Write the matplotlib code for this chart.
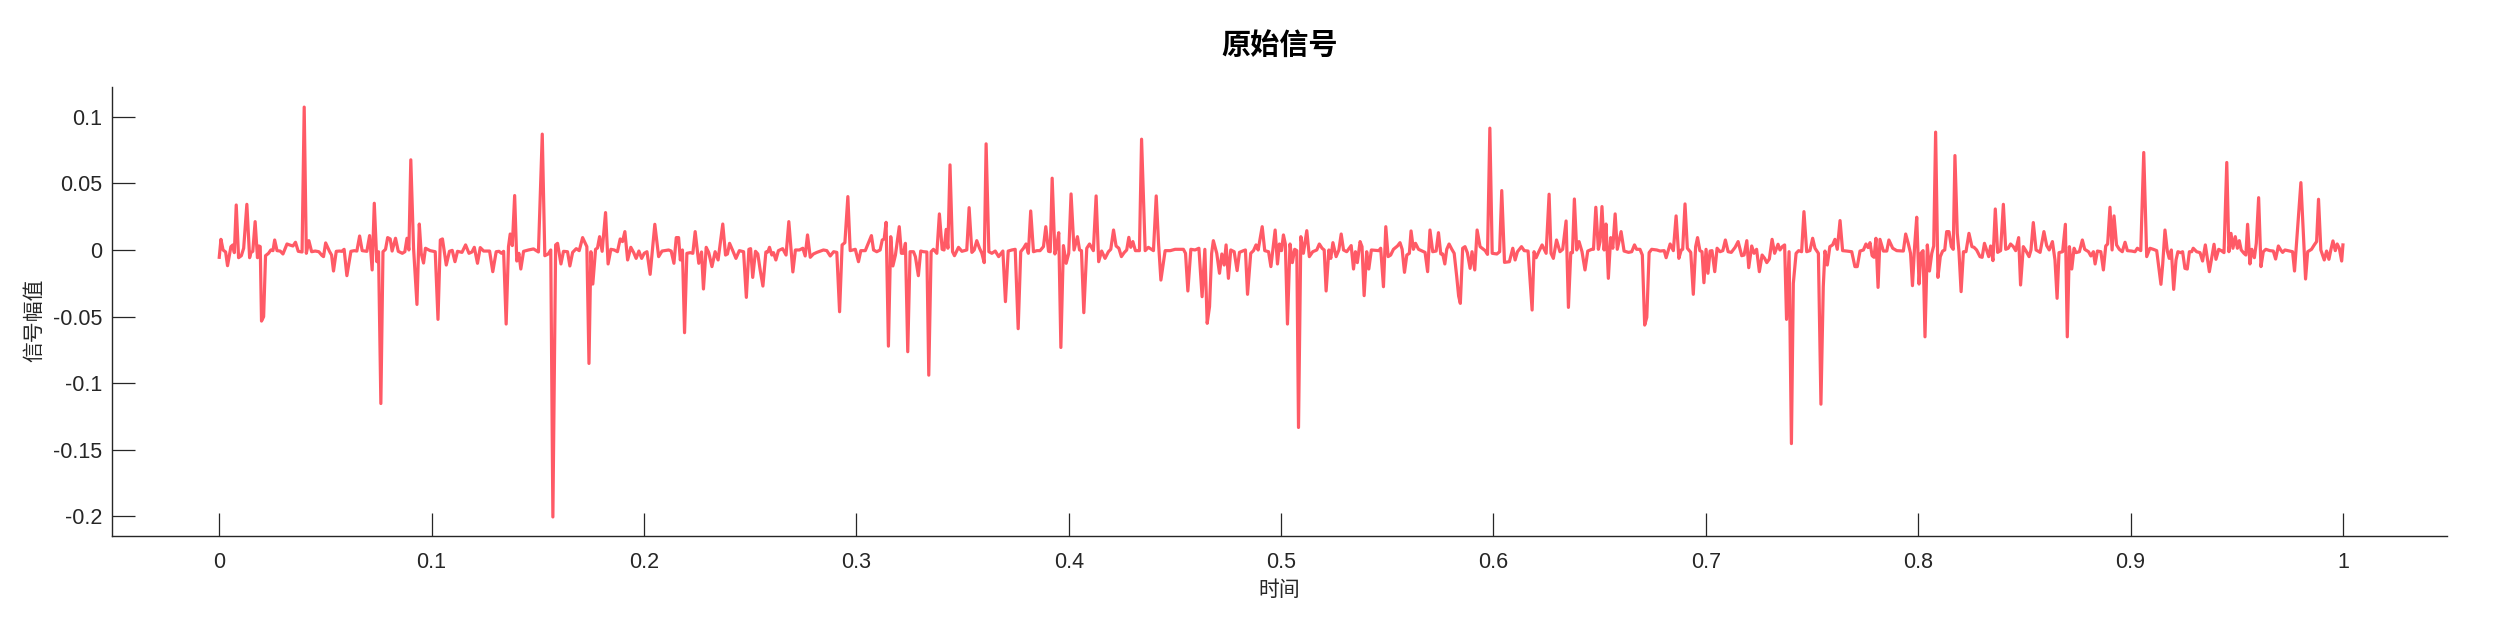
import matplotlib
matplotlib.use("Agg")
import matplotlib.pyplot as plt
from matplotlib.ticker import FuncFormatter

plt.rcParams['font.family'] = ['Liberation Sans', 'Noto Sans CJK SC', 'DejaVu Sans']
plt.rcParams['axes.unicode_minus'] = False

# signal vertices (time in s, amplitude)
t = [
    0.0000, 0.0008, 0.0018, 0.0030, 0.0039, 0.0055, 0.0064, 0.0071, 0.0080, 0.0091,
    0.0104, 0.0115, 0.0130, 0.0143, 0.0149, 0.0158, 0.0169, 0.0180, 0.0187, 0.0193,
    0.0199, 0.0209, 0.0218, 0.0232, 0.0243, 0.0253, 0.0261, 0.0272, 0.0287, 0.0300,
    0.0319, 0.0331, 0.0347, 0.0359, 0.0372, 0.0390, 0.0400, 0.0410, 0.0422, 0.0435,
    0.0452, 0.0469, 0.0483, 0.0491, 0.0501, 0.0519, 0.0529, 0.0538, 0.0551, 0.0566,
    0.0577, 0.0588, 0.0601, 0.0620, 0.0636, 0.0648, 0.0661, 0.0673, 0.0695, 0.0708,
    0.0720, 0.0730, 0.0742, 0.0750, 0.0761, 0.0771, 0.0783, 0.0793, 0.0805, 0.0814,
    0.0830, 0.0843, 0.0862, 0.0874, 0.0884, 0.0893, 0.0902, 0.0915, 0.0931, 0.0942,
    0.0951, 0.0962, 0.0971, 0.0993,
    0.1017, 0.1030, 0.1041, 0.1051, 0.1069, 0.1084, 0.1097, 0.1110, 0.1122, 0.1143,
    0.1160, 0.1176, 0.1190, 0.1201, 0.1216, 0.1229, 0.1245, 0.1273, 0.1288, 0.1304,
    0.1317, 0.1329, 0.1339, 0.1351, 0.1362, 0.1370, 0.1380, 0.1391, 0.1401, 0.1411,
    0.1420, 0.1433, 0.1456, 0.1480, 0.1503, 0.1521, 0.1533, 0.1549, 0.1561, 0.1571,
    0.1584, 0.1593, 0.1609, 0.1621, 0.1640, 0.1651, 0.1664, 0.1681, 0.1695, 0.1711,
    0.1731, 0.1741, 0.1750, 0.1759, 0.1772, 0.1781, 0.1791, 0.1803, 0.1819, 0.1831,
    0.1844, 0.1860, 0.1875, 0.1888, 0.1899, 0.1910, 0.1923, 0.1938, 0.1951, 0.1963,
    0.1976, 0.1989, 0.2001, 0.2014,
    0.2029, 0.2039, 0.2051, 0.2069, 0.2085, 0.2116, 0.2128, 0.2141, 0.2152, 0.2163,
    0.2171, 0.2181, 0.2191, 0.2202, 0.2218, 0.2230, 0.2241, 0.2258, 0.2271, 0.2280,
    0.2293, 0.2305, 0.2320, 0.2335, 0.2349, 0.2371, 0.2384, 0.2393, 0.2403, 0.2418,
    0.2433, 0.2449, 0.2469, 0.2482, 0.2494, 0.2502, 0.2512, 0.2525, 0.2536, 0.2547,
    0.2560, 0.2574, 0.2583, 0.2591, 0.2602, 0.2610, 0.2621, 0.2633, 0.2653, 0.2669,
    0.2682, 0.2701, 0.2713, 0.2732, 0.2748, 0.2759, 0.2770, 0.2783, 0.2798, 0.2814,
    0.2845, 0.2861, 0.2877, 0.2893, 0.2908, 0.2921, 0.2933, 0.2946, 0.2960, 0.2971,
    0.2995, 0.3010, 0.3021, 0.3042,
    0.3071, 0.3081, 0.3096, 0.3112, 0.3122, 0.3131, 0.3140, 0.3151, 0.3162, 0.3172,
    0.3184, 0.3202, 0.3212, 0.3222, 0.3231, 0.3242, 0.3253, 0.3269, 0.3278, 0.3292,
    0.3303, 0.3316, 0.3332, 0.3341, 0.3352, 0.3363, 0.3379, 0.3391, 0.3404, 0.3413,
    0.3423, 0.3431, 0.3441, 0.3453, 0.3462, 0.3481, 0.3497, 0.3520, 0.3531, 0.3544,
    0.3555, 0.3567, 0.3580, 0.3591, 0.3602, 0.3611, 0.3624, 0.3638, 0.3654, 0.3670,
    0.3690, 0.3702, 0.3715, 0.3732, 0.3748, 0.3762, 0.3774, 0.3787, 0.3799, 0.3810,
    0.3821, 0.3834, 0.3850, 0.3865, 0.3881, 0.3892, 0.3905, 0.3913, 0.3922, 0.3935,
    0.3944, 0.3953, 0.3963, 0.3975, 0.3988, 0.4000, 0.4011, 0.4025, 0.4041, 0.4051,
    0.4060, 0.4071, 0.4085, 0.4098,
    0.4116, 0.4129, 0.4141, 0.4155, 0.4171, 0.4187, 0.4198, 0.4211, 0.4223, 0.4236,
    0.4248, 0.4261, 0.4273, 0.4283, 0.4292, 0.4302, 0.4314, 0.4333, 0.4343, 0.4360,
    0.4375, 0.4399, 0.4412, 0.4423, 0.4434, 0.4454, 0.4478, 0.4501, 0.4540, 0.4550,
    0.4561, 0.4575, 0.4595, 0.4613, 0.4628, 0.4641, 0.4652, 0.4663, 0.4673, 0.4681,
    0.4697, 0.4710, 0.4721, 0.4732, 0.4741, 0.4752, 0.4763, 0.4779, 0.4793, 0.4804,
    0.4823, 0.4832, 0.4842, 0.4857, 0.4870, 0.4882, 0.4892, 0.4911, 0.4923, 0.4941,
    0.4952, 0.4972, 0.4983, 0.4992, 0.5002, 0.5011, 0.5020, 0.5030, 0.5042, 0.5053,
    0.5064, 0.5074, 0.5082, 0.5093, 0.5105, 0.5121, 0.5133,
    0.5149, 0.5168, 0.5180, 0.5193, 0.5203, 0.5212, 0.5225, 0.5234, 0.5244, 0.5259,
    0.5272, 0.5283, 0.5294, 0.5309, 0.5330, 0.5341, 0.5350, 0.5359, 0.5372, 0.5381,
    0.5391, 0.5403, 0.5413, 0.5425, 0.5460, 0.5469, 0.5482, 0.5493, 0.5504, 0.5516,
    0.5529, 0.5548, 0.5560, 0.5570, 0.5581, 0.5592, 0.5604, 0.5612, 0.5623, 0.5633,
    0.5647, 0.5678, 0.5690, 0.5701, 0.5714, 0.5730, 0.5741, 0.5752, 0.5761, 0.5771,
    0.5780, 0.5791, 0.5804, 0.5815, 0.5827, 0.5836, 0.5844, 0.5855, 0.5866, 0.5877,
    0.5890, 0.5899, 0.5912, 0.5923, 0.5937, 0.5961, 0.5972, 0.5983, 0.5994, 0.6016,
    0.6029, 0.6039, 0.6052, 0.6075, 0.6091, 0.6102, 0.6113, 0.6132, 0.6145, 0.6163,
    0.6182, 0.6191, 0.6201, 0.6212, 0.6229, 0.6248, 0.6262, 0.6271, 0.6282, 0.6297,
    0.6313, 0.6326, 0.6342, 0.6353, 0.6364, 0.6372, 0.6381, 0.6392, 0.6403, 0.6417,
    0.6431, 0.6444, 0.6463, 0.6471, 0.6482, 0.6494, 0.6502, 0.6511, 0.6521, 0.6530,
    0.6541, 0.6552, 0.6562, 0.6573, 0.6583, 0.6601, 0.6615, 0.6636, 0.6651, 0.6664,
    0.6674, 0.6690, 0.6701, 0.6712, 0.6722, 0.6733, 0.6745, 0.6769, 0.6785, 0.6804,
    0.6813, 0.6832, 0.6847, 0.6860, 0.6873, 0.6884, 0.6891, 0.6902, 0.6913, 0.6929,
    0.6941, 0.6952, 0.6961, 0.6972, 0.6982, 0.6991, 0.7001, 0.7010, 0.7020, 0.7029,
    0.7042, 0.7053, 0.7067, 0.7080, 0.7092, 0.7105, 0.7120, 0.7138, 0.7152, 0.7169,
    0.7180, 0.7193, 0.7202,
    0.7216, 0.7227, 0.7239, 0.7252, 0.7265, 0.7277, 0.7287, 0.7299, 0.7312, 0.7324,
    0.7340, 0.7349, 0.7360, 0.7371, 0.7380, 0.7392, 0.7403, 0.7412, 0.7425, 0.7437,
    0.7451, 0.7462, 0.7475, 0.7490, 0.7503, 0.7514, 0.7530, 0.7542, 0.7553, 0.7561,
    0.7572, 0.7584, 0.7597, 0.7608, 0.7619, 0.7632, 0.7644, 0.7663, 0.7687, 0.7702,
    0.7713, 0.7726, 0.7742, 0.7754, 0.7764, 0.7773, 0.7783, 0.7792, 0.7801, 0.7811,
    0.7820, 0.7836, 0.7852, 0.7862, 0.7880, 0.7899, 0.7930, 0.7941, 0.7953, 0.7964,
    0.7973, 0.7983, 0.7993, 0.8004, 0.8013, 0.8023, 0.8032, 0.8043, 0.8053, 0.8064,
    0.8073, 0.8082, 0.8093, 0.8104, 0.8115, 0.8125, 0.8134, 0.8145, 0.8156, 0.8165,
    0.8173, 0.8184, 0.8192, 0.8202, 0.8213, 0.8225, 0.8239,
    0.8253, 0.8263, 0.8275, 0.8291, 0.8301, 0.8312, 0.8322, 0.8332, 0.8341, 0.8352,
    0.8363, 0.8374, 0.8388, 0.8401, 0.8412, 0.8424, 0.8435, 0.8448, 0.8459, 0.8473,
    0.8482, 0.8495, 0.8507, 0.8522, 0.8531, 0.8542, 0.8555, 0.8574, 0.8592, 0.8605,
    0.8617, 0.8632, 0.8644, 0.8654, 0.8663, 0.8680, 0.8693, 0.8702, 0.8712, 0.8723,
    0.8734, 0.8743, 0.8759, 0.8773, 0.8784, 0.8802, 0.8813, 0.8825, 0.8833, 0.8844,
    0.8860, 0.8872, 0.8883, 0.8892, 0.8903, 0.8913, 0.8922, 0.8934, 0.8947, 0.8961,
    0.8974, 0.8985, 0.9005, 0.9021, 0.9032, 0.9048, 0.9062, 0.9076, 0.9091, 0.9107,
    0.9123, 0.9143, 0.9151, 0.9162, 0.9173, 0.9182, 0.9192, 0.9203, 0.9214, 0.9223,
    0.9236, 0.9245, 0.9256, 0.9267, 0.9277,
    0.9288, 0.9295, 0.9311, 0.9327, 0.9339, 0.9352, 0.9371, 0.9393, 0.9402, 0.9415,
    0.9427, 0.9440, 0.9453, 0.9463, 0.9473, 0.9482, 0.9493, 0.9503, 0.9512, 0.9521,
    0.9534, 0.9543, 0.9551, 0.9562, 0.9571, 0.9583, 0.9592, 0.9603, 0.9614, 0.9625,
    0.9637, 0.9656, 0.9672, 0.9683, 0.9696, 0.9707, 0.9716, 0.9727, 0.9763, 0.9772,
    0.9802, 0.9824, 0.9834, 0.9852, 0.9865, 0.9876, 0.9885, 0.9896,
    0.9912, 0.9923, 0.9934, 0.9944, 0.9953, 0.9964, 0.9973, 0.9983, 0.9994, 1.0000,
]

amp = [
    -0.0055, 0.0080, 0.0000, -0.0015, -0.0118, 0.0025, 0.0038, -0.0020, 0.0338, -0.0058,
    -0.0043, 0.0013, 0.0343, -0.0058, -0.0020, -0.0010, 0.0213, -0.0058, 0.0030, 0.0025,
    -0.0534, -0.0501, -0.0043, -0.0025, 0.0000, -0.0005, 0.0075, -0.0005, -0.0008, -0.0030,
    0.0045, 0.0038, 0.0030, 0.0058, -0.0010, -0.0015, 0.1073, -0.0025, 0.0070, -0.0013,
    -0.0008, -0.0013, -0.0040, -0.0050, 0.0053, -0.0010, -0.0038, -0.0158, -0.0010, -0.0008,
    -0.0010, 0.0005, -0.0193, -0.0010, -0.0005, -0.0008, 0.0105, -0.0005, -0.0010, 0.0108,
    -0.0150, 0.0351, -0.0088, -0.0013, -0.1153, -0.0013, 0.0005, 0.0093, 0.0083, -0.0008,
    0.0088, -0.0010, -0.0025, -0.0013, 0.0088, 0.0000, 0.0677, 0.0013, -0.0409, 0.0195,
    -0.0025, -0.0098, 0.0013, -0.0005,
    -0.0013, -0.0521, 0.0075, 0.0083, -0.0113, -0.0010, -0.0003, -0.0088, -0.0010, -0.0018,
    0.0038, -0.0025, -0.0015, 0.0020, -0.0100, 0.0018, -0.0008, -0.0008, -0.0163, -0.0013,
    -0.0010, -0.0025, -0.0010, -0.0556, 0.0025, 0.0120, 0.0033, 0.0409, -0.0083, -0.0025,
    -0.0143, -0.0010, 0.0000, 0.0008, -0.0015, 0.0870, -0.0043, -0.0030, 0.0000, -0.2005,
    0.0038, 0.0050, -0.0105, -0.0010, -0.0013, -0.0120, -0.0018, 0.0010, -0.0005, 0.0093,
    0.0025, -0.0852, -0.0013, -0.0256, 0.0005, 0.0015, 0.0100, -0.0010, 0.0281, -0.0105,
    0.0005, 0.0000, -0.0013, 0.0083, 0.0063, 0.0138, -0.0075, 0.0020, -0.0018, -0.0063,
    -0.0008, -0.0063, -0.0025, -0.0013,
    -0.0183, -0.0013, 0.0193, -0.0050, -0.0008, 0.0000, -0.0008, -0.0100, 0.0093, 0.0093,
    -0.0075, 0.0000, -0.0621, -0.0025, -0.0020, -0.0025, 0.0138, -0.0100, -0.0015, -0.0293,
    0.0020, -0.0020, -0.0125, -0.0013, -0.0075, 0.0195, -0.0038, -0.0030, 0.0050, -0.0005,
    -0.0063, -0.0005, -0.0013, -0.0356, 0.0005, 0.0010, -0.0206, -0.0010, -0.0030, -0.0150,
    -0.0271, -0.0015, -0.0015, 0.0020, -0.0038, -0.0020, -0.0075, -0.0005, 0.0010, -0.0038,
    0.0213, -0.0165, 0.0000, 0.0000, 0.0013, -0.0045, 0.0113, -0.0055, -0.0030, -0.0018,
    0.0000, -0.0005, -0.0045, -0.0013, -0.0018, -0.0464, 0.0038, 0.0055, 0.0401, -0.0005,
    0.0005, -0.0088, -0.0005, -0.0005,
    0.0108, 0.0000, -0.0013, 0.0000, 0.0075, 0.0083, 0.0208, -0.0722, 0.0100, -0.0120,
    -0.0038, 0.0175, -0.0025, -0.0025, 0.0050, -0.0764, -0.0013, -0.0013, -0.0050, -0.0193,
    -0.0008, -0.0013, -0.0015, -0.0940, -0.0013, 0.0005, -0.0025, 0.0271, 0.0005, 0.0000,
    0.0155, 0.0013, 0.0639, -0.0013, -0.0043, 0.0020, -0.0010, 0.0000, 0.0318, -0.0018,
    0.0000, 0.0070, 0.0013, -0.0025, -0.0095, 0.0797, -0.0013, -0.0025, -0.0008, -0.0050,
    -0.0008, -0.0388, -0.0008, 0.0000, 0.0005, -0.0591, -0.0013, 0.0013, 0.0045, -0.0025,
    0.0293, -0.0013, -0.0005, -0.0005, 0.0025, 0.0175, -0.0010, -0.0013, 0.0539, -0.0030,
    0.0038, 0.0130, -0.0732, 0.0033, -0.0100, -0.0025, 0.0421, 0.0000, 0.0100, 0.0000,
    -0.0005, -0.0471, 0.0013, 0.0045,
    -0.0005, 0.0406, -0.0088, -0.0008, -0.0063, -0.0013, 0.0005, 0.0150, 0.0030, 0.0013,
    -0.0050, -0.0020, 0.0000, 0.0095, 0.0020, 0.0063, -0.0005, -0.0005, 0.0832, -0.0005,
    0.0020, -0.0005, 0.0406, 0.0050, -0.0226, -0.0005, -0.0005, 0.0005, 0.0005, -0.0025,
    -0.0308, 0.0005, 0.0000, 0.0013, -0.0351, 0.0005, -0.0551, -0.0426, -0.0025, 0.0070,
    -0.0025, -0.0175, -0.0030, -0.0113, 0.0038, -0.0213, 0.0000, -0.0013, -0.0155, -0.0018,
    -0.0005, 0.0000, -0.0333, -0.0025, -0.0005, 0.0038, 0.0000, 0.0175, -0.0005, -0.0013,
    -0.0125, 0.0150, -0.0105, 0.0045, -0.0005, 0.0113, 0.0045, -0.0556, 0.0045, -0.0095,
    0.0005, -0.0005, -0.1333, 0.0100, -0.0025, 0.0145, -0.0050,
    -0.0013, 0.0000, 0.0045, 0.0013, 0.0000, -0.0308, 0.0000, -0.0063, 0.0055, -0.0050,
    0.0000, 0.0120, 0.0000, -0.0013, 0.0033, -0.0143, -0.0013, -0.0095, 0.0063, 0.0025,
    -0.0343, -0.0013, -0.0143, 0.0000, -0.0005, 0.0013, -0.0276, 0.0175, -0.0050, -0.0038,
    0.0005, 0.0030, 0.0055, 0.0005, -0.0168, -0.0038, -0.0025, 0.0143, 0.0005, 0.0050,
    0.0005, -0.0018, -0.0163, 0.0150, -0.0013, -0.0008, 0.0130, -0.0030, -0.0030, -0.0105,
    0.0005, 0.0045, 0.0005, -0.0025, -0.0200, -0.0346, -0.0401, 0.0013, 0.0025, -0.0020,
    -0.0138, -0.0013, -0.0150, 0.0150, 0.0025, -0.0005, -0.0033, 0.0915, -0.0025, -0.0030,
    -0.0013, 0.0446, -0.0093, -0.0088, 0.0013, -0.0075, -0.0013, 0.0025, -0.0005, -0.0008,
    -0.0451, -0.0013, -0.0058, -0.0018, 0.0038, -0.0025, 0.0419, -0.0025, -0.0063, 0.0075,
    -0.0013, 0.0005, 0.0218, -0.0431, -0.0020, -0.0020, 0.0383, 0.0000, 0.0063, -0.0013,
    -0.0150, -0.0008, 0.0005, 0.0005, 0.0321, 0.0005, 0.0063, 0.0326, 0.0000, 0.0195,
    -0.0213, 0.0093, 0.0013, 0.0271, 0.0005, 0.0138, -0.0008, -0.0018, -0.0013, 0.0038,
    0.0005, 0.0005, -0.0038, -0.0564, -0.0506, -0.0020, 0.0005, 0.0000, -0.0008, -0.0005,
    -0.0058, 0.0045, -0.0005, 0.0256, -0.0063, 0.0000, 0.0005, 0.0346, 0.0013, -0.0018,
    -0.0333, 0.0025, 0.0093, -0.0005, -0.0013, -0.0246, 0.0005, -0.0175, -0.0008, -0.0005,
    -0.0163, 0.0013, -0.0013, -0.0005, 0.0075, -0.0013, -0.0018, 0.0020, 0.0063, -0.0043,
    -0.0038, 0.0070, -0.0133,
    0.0030, -0.0025, 0.0005, -0.0163, -0.0038, -0.0063, -0.0095, -0.0068, 0.0080, -0.0025,
    0.0043, 0.0000, 0.0025, 0.0038, -0.0521, -0.0013, -0.1454, -0.0251, -0.0025, -0.0005,
    -0.0013, 0.0288, -0.0013, -0.0005, 0.0088, 0.0013, -0.0025, -0.1158, -0.0276, -0.0008,
    -0.0113, 0.0025, 0.0038, 0.0080, 0.0005, 0.0221, -0.0005, -0.0008, -0.0013, -0.0125,
    -0.0125, -0.0008, 0.0000, 0.0045, 0.0018, 0.0055, -0.0043, -0.0055, 0.0088, -0.0281,
    0.0080, -0.0008, -0.0008, 0.0075, 0.0013, -0.0005, -0.0008, 0.0120, 0.0050, -0.0025,
    -0.0268, 0.0025, 0.0246, -0.0256, -0.0025, -0.0005, -0.0652, 0.0038, -0.0158, -0.0025,
    0.0030, 0.0885, -0.0206, -0.0050, -0.0008, 0.0000, 0.0138, 0.0138, 0.0025, 0.0005,
    0.0709, 0.0125, -0.0013, -0.0313, -0.0013, -0.0013, 0.0125,
    0.0025, 0.0020, 0.0000, -0.0050, -0.0055, 0.0050, 0.0000, -0.0050, 0.0030, -0.0080,
    0.0308, -0.0018, -0.0005, 0.0343, 0.0005, 0.0013, 0.0045, 0.0025, -0.0005, 0.0093,
    -0.0263, 0.0025, -0.0005, -0.0050, 0.0000, 0.0206, 0.0000, -0.0018, 0.0138, 0.0033,
    0.0000, 0.0063, -0.0075, -0.0363, -0.0020, -0.0013, 0.0193, -0.0652, 0.0025, -0.0143,
    0.0013, -0.0020, -0.0013, 0.0075, 0.0005, -0.0013, -0.0045, -0.0013, -0.0105, -0.0008,
    -0.0013, -0.0150, 0.0030, 0.0045, 0.0321, 0.0000, 0.0256, 0.0038, 0.0005, -0.0013,
    0.0058, -0.0005, -0.0008, -0.0013, 0.0013, -0.0005, 0.0732, -0.0050, 0.0013, 0.0005,
    -0.0005, -0.0258, -0.0113, 0.0150, -0.0008, -0.0063, 0.0000, -0.0296, -0.0075, -0.0013,
    -0.0020, -0.0013, -0.0138, -0.0143, -0.0013,
    -0.0013, 0.0013, -0.0013, -0.0020, -0.0083, 0.0038, -0.0163, 0.0043, -0.0070, 0.0005,
    -0.0005, -0.0020, 0.0657, -0.0013, 0.0125, 0.0013, 0.0100, 0.0013, 0.0070, 0.0000,
    -0.0025, -0.0038, 0.0193, -0.0105, 0.0005, -0.0058, 0.0050, 0.0393, -0.0125, -0.0013,
    0.0005, -0.0005, -0.0008, -0.0068, 0.0030, 0.0000, -0.0018, 0.0000, -0.0013, -0.0158,
    0.0506, -0.0218, -0.0013, 0.0005, 0.0038, 0.0063, 0.0381, 0.0000,
    -0.0075, -0.0008, -0.0070, 0.0008, 0.0068, -0.0005, 0.0045, 0.0013, -0.0083, 0.0038,
]

x_ticks = [0, 0.1, 0.2, 0.3, 0.4, 0.5, 0.6, 0.7, 0.8, 0.9, 1]
y_ticks = [-0.2, -0.15, -0.1, -0.05, 0, 0.05, 0.1]

assert len(t) == len(amp)

fig = plt.figure(figsize=(25, 6.25), dpi=100)
ax = fig.add_axes([0.0448, 0.142, 0.9340, 0.719])

ax.plot(t, amp, color='#FF5A66', linewidth=2.3)

ax.set_xlim(-0.0505, 1.049)
ax.set_ylim(-0.215, 0.1225)
ax.set_xticks(x_ticks)
ax.set_yticks(y_ticks)
ax.xaxis.set_major_formatter(FuncFormatter(lambda v, p: '%g' % round(v, 3)))
ax.yaxis.set_major_formatter(FuncFormatter(lambda v, p: '%g' % round(v, 3)))

for s in ['top', 'right']:
    ax.spines[s].set_visible(False)
for s in ['left', 'bottom']:
    ax.spines[s].set_color('#262626')
    ax.spines[s].set_linewidth(1.0)

ax.tick_params(direction='in', length=16.5, width=0.9, colors='#262626',
               labelsize=15.5, labelcolor='#262626')
ax.tick_params(axis='x', pad=11)
ax.tick_params(axis='y', pad=7)

ax.set_xlabel('时间', family=['Noto Sans CJK SC'], fontsize=15, color='#262626')
ax.xaxis.set_label_coords(0.5, -0.096)
ax.set_ylabel('信号幅值', family=['Noto Sans CJK SC'], fontsize=15, color='#262626')
ax.yaxis.set_label_coords(-0.0285, 0.48)

ax.text(0.5, 1.0935, '原始信号', transform=ax.transAxes, ha='center', va='center',
        family=['Noto Sans CJK SC'], fontsize=21, fontweight='bold', color='black')

fig.savefig('out.png', dpi=100, facecolor='white')
